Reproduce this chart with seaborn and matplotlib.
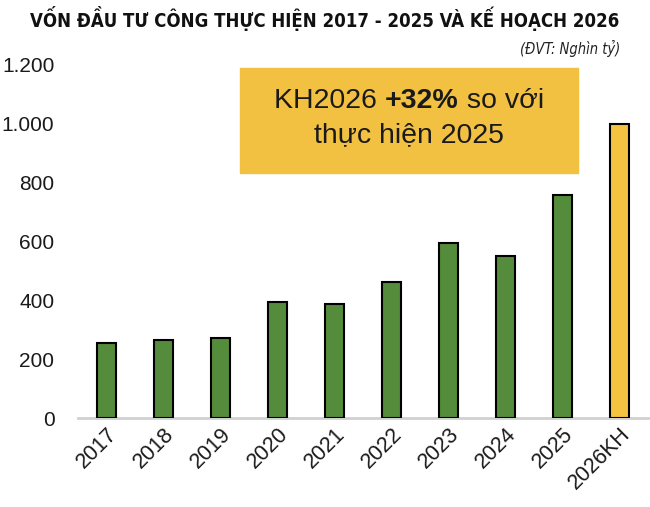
import pandas as pd
import numpy as np
import matplotlib.pyplot as plt
import seaborn as sns

sns.set_style("white")
plt.rcParams['font.family'] = ['Liberation Sans', 'DejaVu Sans']
plt.rcParams['text.color'] = '#1a1a1a'
plt.rcParams['ytick.color'] = '#1a1a1a'
plt.rcParams['xtick.color'] = '#1a1a1a'

# du lieu (nghin ty dong)
years = ["2017", "2018", "2019", "2020", "2021", "2022", "2023", "2024", "2025", "2026KH"]
values = [254, 267, 273, 395, 387, 462, 593, 551, 757, 999]
bar_colors = ["#548c3b"] * 9 + ["#f5c342"]
yticks = [0, 200, 400, 600, 800, 1000, 1200]
ytick_labels = ["0", "200", "400", "600", "800", "1.000", "1.200"]

data = pd.DataFrame({"year": years, "value": values})

fig = plt.figure(figsize=(6.5, 5.07), dpi=100)
ax = fig.add_axes([0.12, 0.175, 0.877, 0.698])

sns.barplot(x="year", y="value", hue="year", data=data, palette=bar_colors, saturation=1,
            legend=False, width=0.33, edgecolor="black", linewidth=1.5, ax=ax, zorder=3)

ax.set_ylim(0, 1200)
ax.set_yticks(yticks)
ax.set_yticklabels(ytick_labels, fontsize=15)
ax.set_xlabel("")
ax.set_ylabel("")
for s in ["top", "right", "left"]:
    ax.spines[s].set_visible(False)
ax.spines["bottom"].set_color("#d0d0d0")
ax.spines["bottom"].set_linewidth(2)
ax.tick_params(axis="y", length=0, pad=17)
ax.tick_params(axis="x", length=0, pad=4)
plt.setp(ax.get_xticklabels(), rotation=45, ha="right", rotation_mode="anchor", fontsize=15.5)

# hop chu thich
box = plt.Rectangle((2.34, 833), 8.27 - 2.34, 1189 - 833, color="#f3c142", zorder=2, clip_on=False)
ax.add_patch(box)

fig.canvas.draw()
r = fig.canvas.get_renderer()
cx = (2.34 + 8.27) / 2
parts = [("KH2026 ", "normal"), ("+32%", "bold"), (" so với", "normal")]
tmp = []
for s, w in parts:
    t = ax.text(0, 0, s, fontsize=20.5, fontweight=w)
    tmp.append(t)
widths = [t.get_window_extent(renderer=r).width for t in tmp]
total = sum(widths)
x0_pix = ax.transData.transform((cx, 0))[0] - total / 2
y1 = ax.transData.transform((0, 1075))[1]
xp = x0_pix
for t, wdt in zip(tmp, widths):
    t.set_transform(None)
    t.set_position((xp, y1))
    t.set_va("center")
    t.set_zorder(4)
    xp += wdt
ax.text(cx, 960, "thực hiện 2025", fontsize=20.5, ha="center", va="center", zorder=4)

title = fig.text(0.5, 0.963, "VỐN ĐẦU TƯ CÔNG THỰC HIỆN 2017 - 2025 VÀ KẾ HOẠCH 2026",
                 ha="center", va="center", fontsize=15, fontweight="bold",
                 family=["DejaVu Sans"], fontstretch="condensed", color="#111111")
unit = fig.text(0.955, 0.905, "(ĐVT: Nghìn tỷ)", ha="right", va="center", fontsize=10.5,
                style="italic", family=["DejaVu Sans"], fontstretch="condensed", color="#222222")

# thu nho tieu de neu qua rong
fig.canvas.draw()
tw = title.get_window_extent(renderer=fig.canvas.get_renderer()).width
if tw > 590:
    title.set_fontsize(15 * 590 / tw)

fig.savefig("out.png", dpi=100, facecolor="white")
